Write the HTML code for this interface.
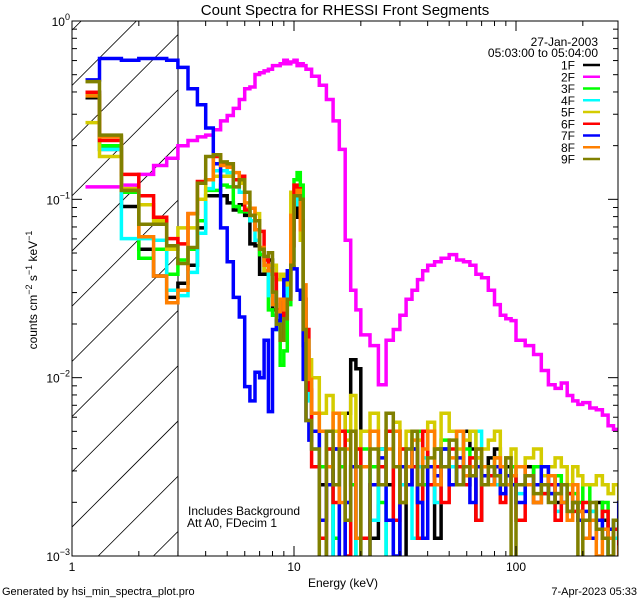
<!DOCTYPE html>
<html><head><meta charset="utf-8"><style>
html,body{margin:0;padding:0;background:#fff;}
svg{display:block;font-family:"Liberation Sans",sans-serif;}
</style></head><body>
<svg id="chart" width="640" height="600" viewBox="0 0 640 600" xmlns="http://www.w3.org/2000/svg">
<rect width="640" height="600" fill="#fff"/>
<text x="345" y="15" font-size="15" text-anchor="middle">Count Spectra for RHESSI Front Segments</text>
<defs>
<clipPath id="plotclip"><rect x="72" y="21" width="546" height="535"/></clipPath>
<clipPath id="hatchclip"><rect x="72" y="21" width="106" height="535"/></clipPath>
</defs>
<g id="hatch" clip-path="url(#hatchclip)"></g>
<line x1="178" y1="21" x2="178" y2="556" stroke="#000" stroke-width="1"/>
<g id="series" clip-path="url(#plotclip)"></g>
<rect x="72" y="21" width="546" height="535" fill="none" stroke="#000" stroke-width="1"/>
<g id="axes"></g>
<text transform="translate(37,290) rotate(-90)" font-size="12" text-anchor="middle">counts cm<tspan dy="-5" font-size="9">−2</tspan><tspan dy="5"> s</tspan><tspan dy="-5" font-size="9">−1</tspan><tspan dy="5"> keV</tspan><tspan dy="-5" font-size="9">−1</tspan></text>
<text x="343" y="587" font-size="12" text-anchor="middle">Energy (keV)</text>
<text x="2" y="595" font-size="11">Generated by hsi_min_spectra_plot.pro</text>
<text x="637" y="595" font-size="11" text-anchor="end">7-Apr-2023 05:33</text>
<text x="188" y="515" font-size="12">Includes Background</text>
<text x="187" y="527" font-size="12">Att A0, FDecim 1</text>
<text x="598" y="46" font-size="12" text-anchor="end">27-Jan-2003</text>
<text x="598" y="57" font-size="12" text-anchor="end">05:03:00 to 05:04:00</text>
<g id="legend"></g>
</svg>
<script>
// Energy bin edges (keV)
const energyEdges = [1.15,1.33,1.67,2,2.33,2.67,3,3.33,3.67,4,4.33,4.67,5,5.33,5.67,6,6.33,6.67,7,7.33,7.67,8,8.33,8.67,9,9.33,9.67,10,10.33,10.67,11,11.33,11.67,12,
13,14,15,16,17,18,19,20,22,24,26,28,30,32,34,36,38,40,43,46,50,54,58,62,66,70,75,80,85,90,95,100,110,120,130,140,150,160,170,180,190,200,215,230,245,260,275,290,300];
const seriesNames = ["1F","2F","3F","4F","5F","6F","7F","8F","9F"];
const seriesColors = ["#000000","#ff00ff","#00ff00","#00ffff","#d4cc00","#ff0000","#0000ff","#ff8000","#808000"];
// values: decades below 1 (rate = 10^-v), per bin
const dec1F = [.43,.72,1.04,1.28,1.43,1.55,1.47,1.37,1.16,.98,.98,.98,1.02,1.06,1.03,1.09,1.25,1.26,1.42,1.42,1.34,1.62,1.62,1.79,1.59,1.54,1.17,1.0,1.10,1.14,1.82,1.96,2.07,
2.3,2.6,3.2,2.4,3.2,2.2,1.9,1.95,2.5,2.9,2.4,2.6,2.3,3.1,2.5,2.4,2.7,2.3,2.5,2.9,2.4,2.6,2.5,2.3,2.4,2.8,2.5,2.45,2.4,2.6,2.5,2.55,2.6,2.5,2.7,2.6,2.55,2.7,2.6,2.65,2.7,2.75,2.8,2.9,2.7,2.8,3.1,2.9,2.8];
const dec2F = [.93,.93,.92,.86,.81,.77,.70,.67,.65,.64,.61,.56,.53,.49,.44,.38,.37,.30,.29,.28,.27,.25,.25,.24,.22,.24,.23,.22,.25,.24,.25,.27,.27,
.31,.36,.44,.56,.72,1.23,1.51,1.62,1.76,1.82,2.04,1.79,1.73,1.65,1.56,1.51,1.45,1.40,1.37,1.35,1.33,1.31,1.34,1.35,1.37,1.42,1.44,1.51,1.59,1.65,1.67,1.68,1.79,1.82,1.87,1.96,2.04,2.06,2.03,2.10,2.13,2.15,2.14,2.17,2.18,2.21,2.27,2.29,2.29];
const dec3F = [.42,.70,.96,1.33,1.28,1.42,1.34,1.28,1.12,.95,.95,.92,.93,1.04,1.07,1.07,1.12,1.17,1.31,1.40,1.62,1.65,1.73,1.93,1.85,1.59,1.09,.89,.85,.92,1.56,1.79,2.01,
2.2,2.5,2.4,2.9,2.5,2.3,2.6,3.2,2.4,2.5,2.7,3.2,2.3,2.5,2.6,2.4,2.3,2.6,2.5,2.4,2.35,2.5,2.6,2.4,2.5,2.45,2.5,2.6,2.45,2.5,2.55,2.5,2.6,2.55,2.5,2.65,2.6,2.55,2.7,2.6,2.65,2.7,2.6,2.75,2.8,2.7,2.9,2.8,2.9];
const dec4F = [.40,.72,1.22,1.22,1.23,1.51,1.54,1.41,1.19,.94,.84,.84,.85,.93,.96,1.06,1.12,1.23,1.28,1.37,1.54,1.59,1.73,1.68,1.65,1.48,1.34,1.03,.95,1.06,1.62,1.79,2.13,
2.4,2.3,2.6,3.2,2.4,2.7,3.2,2.5,2.3,2.8,2.4,3.1,2.5,2.6,2.4,2.9,2.5,2.45,2.6,2.7,2.4,2.5,2.3,2.6,2.5,2.3,2.55,2.5,2.6,2.5,2.6,2.55,2.65,2.6,2.7,2.6,2.65,2.75,2.7,2.6,2.7,2.8,2.9,2.75,2.8,2.85,3.2,2.9,2.95];
const dec5F = [.57,.76,.94,1.03,1.12,1.28,1.16,1.16,1.0,.89,.87,.87,.87,.89,.91,1.05,1.05,1.08,1.28,1.40,1.37,1.37,1.45,1.42,1.48,1.45,.96,.95,.98,1.23,1.68,1.85,1.90,
2.0,2.2,2.1,2.3,2.2,2.35,2.1,2.4,2.3,2.2,2.5,2.3,2.25,2.4,2.3,2.4,2.35,2.3,2.25,2.4,2.2,2.3,2.4,2.35,2.3,2.45,2.4,2.35,2.3,2.5,2.45,2.4,2.5,2.45,2.4,2.55,2.5,2.45,2.5,2.6,2.5,2.55,2.6,2.6,2.55,2.6,2.65,2.6,2.7];
const dec6F = [.40,.67,.86,.98,1.10,1.22,1.25,1.08,.90,.89,.76,.80,.80,.89,.87,1.06,1.09,1.17,1.18,1.34,1.40,1.42,1.62,1.65,1.56,1.56,1.26,.92,.94,1.12,1.56,1.73,2.07,
2.5,2.9,2.4,2.7,2.3,3.0,2.5,2.4,2.9,2.6,2.5,2.3,2.8,2.4,2.6,2.5,2.9,2.3,2.6,2.5,2.7,2.4,2.5,2.6,2.45,2.8,2.5,2.55,2.5,2.7,2.6,2.55,2.8,2.6,2.7,2.65,2.6,2.8,2.7,2.65,2.75,2.8,2.7,2.9,2.8,2.75,2.9,2.85,3.0];
const dec7F = [.33,.21,.22,.21,.21,.22,.26,.38,.47,.60,.80,1.16,1.35,1.55,1.66,2.05,2.13,1.97,2.0,1.79,2.19,1.73,1.68,1.56,1.45,1.40,1.38,1.39,1.51,1.56,2.01,2.24,2.35,
2.3,2.8,2.6,2.4,3.1,2.7,2.5,2.9,3.2,2.6,2.45,2.8,3.0,2.5,2.6,2.4,2.7,2.9,2.5,2.55,2.4,2.6,2.45,2.5,2.7,2.5,2.55,2.6,2.5,2.65,2.55,2.6,2.7,2.55,2.6,2.5,2.65,2.6,2.7,2.75,2.7,2.8,2.75,2.9,2.8,2.9,2.85,2.8,2.7];
const dec8F = [.42,.65,.95,1.21,1.43,1.58,1.51,1.08,.91,.89,.75,.81,.82,.85,.89,1.02,1.05,1.17,1.27,1.37,1.40,1.59,1.63,1.56,1.62,1.56,1.09,.98,.95,1.17,1.48,1.79,2.01,
2.2,2.3,2.5,2.2,2.7,2.4,2.3,2.9,2.5,2.3,2.6,2.4,2.3,2.7,2.5,2.35,2.6,2.4,2.3,2.6,2.5,2.45,2.3,2.55,2.5,2.4,2.5,2.6,2.45,2.5,2.6,2.55,2.5,2.6,2.7,2.6,2.55,2.65,2.7,2.8,2.6,2.75,2.9,2.8,3.0,2.85,2.9,3.1,2.95];
const dec9F = [.34,.64,.95,1.14,1.14,1.26,1.36,1.27,.91,.76,.75,.79,.80,.93,.89,.96,1.09,1.12,1.28,1.32,1.30,1.52,1.70,1.79,1.67,1.56,1.37,.98,.98,1.0,1.73,2.24,2.24,
2.4,3.2,2.3,2.6,2.4,2.8,2.3,2.5,3.2,2.4,2.6,2.2,2.5,2.7,2.4,2.3,2.6,2.5,2.45,2.4,2.5,2.35,2.6,2.5,2.55,2.4,2.6,2.5,2.55,2.6,2.45,3.1,2.6,2.55,2.65,2.6,2.7,2.65,2.6,2.75,2.7,3.2,2.8,2.7,2.85,2.9,3.0,2.8,2.9];
const xMajorTicks = [1,10,100];
const xMajorLabels = ["1","10","100"];
const xMinorTicks = [2,3,4,5,6,7,8,9,20,30,40,50,60,70,80,90,200];
const yMajorExp = [0,-1,-2,-3];

const NS = "http://www.w3.org/2000/svg";
const L = 72, R = 618, T = 21, B = 556;
const xDec = 222, yDec = (B - T) / 3;
function xScale(e){ return L + xDec * Math.log10(e); }
function yScale(v){ return T - yDec * Math.log10(v); }
function mk(tag, attrs, parent){ const el = document.createElementNS(NS, tag); for (const k in attrs) el.setAttribute(k, attrs[k]); parent.appendChild(el); return el; }

// hatch
const hatch = document.getElementById('hatch');
for (let c = 47; c < 760; c += 55.2) {
  const ln = mk('line', {x1: c - T, y1: T, x2: c - B, y2: B, stroke: '#000', 'stroke-width': 0.8}, hatch);
  
  
}

// series
const seriesData = [dec1F, dec2F, dec3F, dec4F, dec5F, dec6F, dec7F, dec8F, dec9F];
const sg = document.getElementById('series');
seriesData.forEach((arr, si) => {
  const n = Math.min(arr.length, energyEdges.length - 1);
  let d = '';
  for (let i = 0; i < n; i++) {
    const y = yScale(Math.pow(10, -arr[i]));
    const x0 = xScale(energyEdges[i]), x1 = xScale(energyEdges[i + 1]);
    d += (i === 0 ? 'M' : 'L') + x0.toFixed(1) + ',' + y.toFixed(1) + 'L' + x1.toFixed(1) + ',' + y.toFixed(1);
  }
  const p = mk('path', {d: d, fill: 'none', stroke: seriesColors[si], 'stroke-width': 3.5, 'stroke-linejoin': 'miter'}, sg);
  
  
});

// axes
const ax = document.getElementById('axes');
xMajorTicks.forEach((e, i) => {
  const x = xScale(e);
  mk('line', {x1: x, y1: B, x2: x, y2: B - 10, stroke: '#000'}, ax);
  mk('line', {x1: x, y1: T, x2: x, y2: T + 10, stroke: '#000'}, ax);
  const t = mk('text', {x: x, y: B + 15, 'font-size': 12, 'text-anchor': 'middle'}, ax);
  t.textContent = xMajorLabels[i];
  
  
});
xMinorTicks.forEach(e => {
  const x = xScale(e);
  mk('line', {x1: x, y1: B, x2: x, y2: B - 5, stroke: '#000'}, ax);
  mk('line', {x1: x, y1: T, x2: x, y2: T + 5, stroke: '#000'}, ax);
});
yMajorExp.forEach(p => {
  const y = yScale(Math.pow(10, p));
  mk('line', {x1: L, y1: y, x2: L + 10, y2: y, stroke: '#000'}, ax);
  mk('line', {x1: R, y1: y, x2: R - 10, y2: y, stroke: '#000'}, ax);
  const t = mk('text', {x: L - 2, y: y + 5, 'font-size': 12, 'text-anchor': 'end'}, ax);
  
  
  const s1 = mk('tspan', {}, t); s1.textContent = '10';
  const s2 = mk('tspan', {dy: -6, 'font-size': 9}, t); s2.textContent = String(p).replace('-', '−');
  if (p > -3) {
    for (let m = 2; m <= 9; m++) {
      const ym = yScale(m * Math.pow(10, p - 1));
      mk('line', {x1: L, y1: ym, x2: L + 5, y2: ym, stroke: '#000'}, ax);
      mk('line', {x1: R, y1: ym, x2: R - 5, y2: ym, stroke: '#000'}, ax);
    }
  }
});

// legend
const lg = document.getElementById('legend');
seriesNames.forEach((nm, i) => {
  const y = 65 + i * 11.75;
  const t = mk('text', {x: 575, y: y + 4.5, 'font-size': 12, 'text-anchor': 'end'}, lg);
  t.textContent = nm;
  
  
  const ln = mk('line', {x1: 583, y1: y, x2: 600, y2: y, stroke: seriesColors[i], 'stroke-width': 2.5}, lg);
  
  
});
</script>
</body></html>
